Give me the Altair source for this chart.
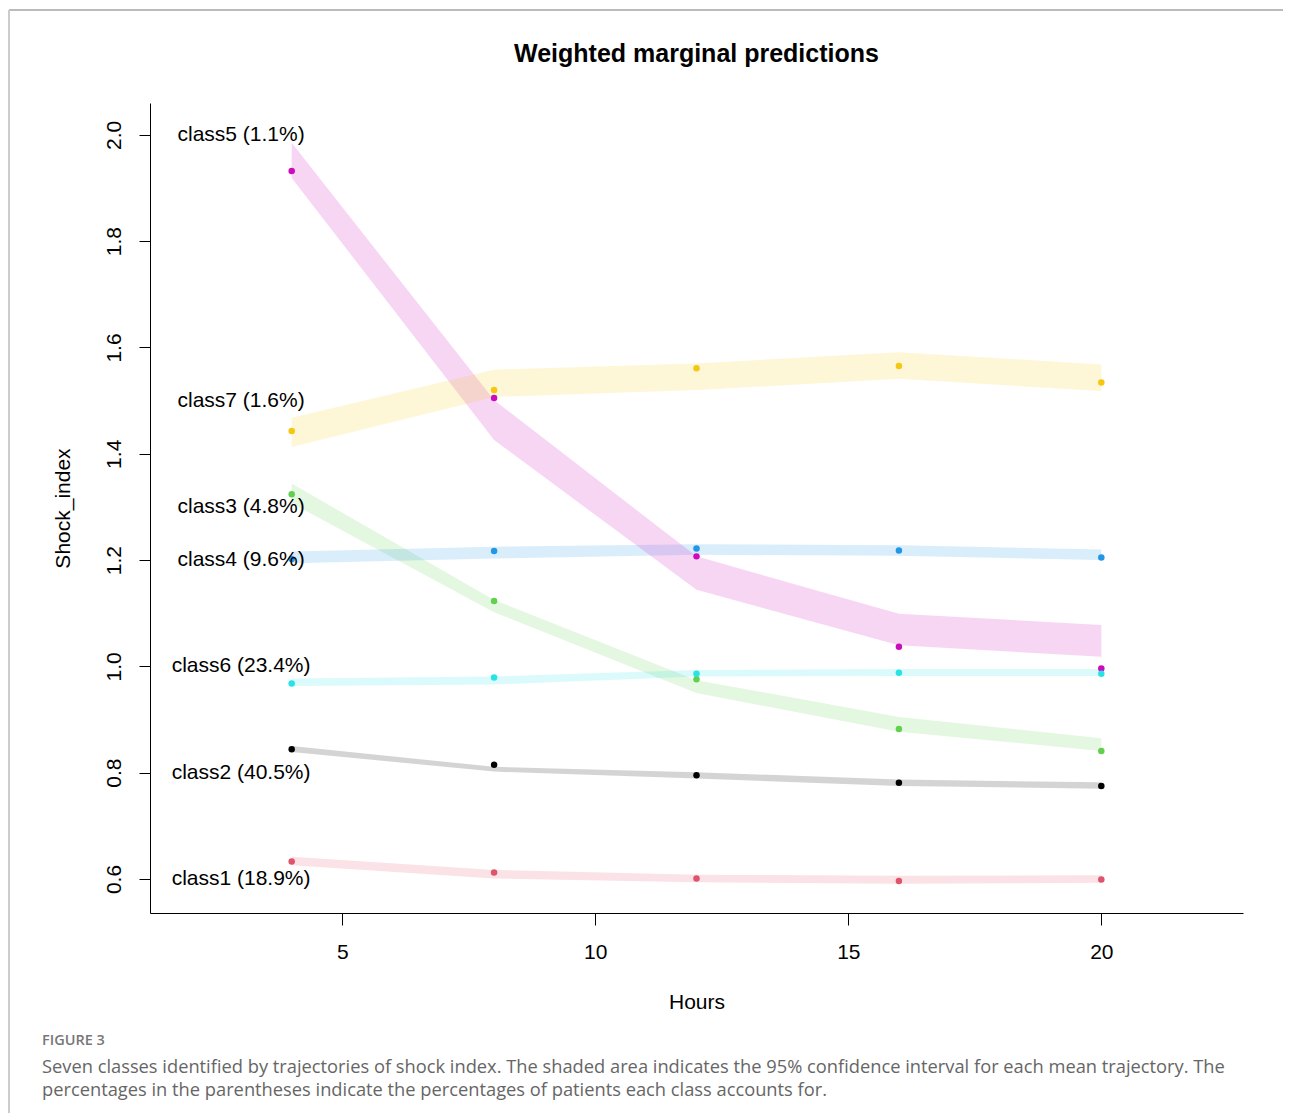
import altair as alt
import pandas as pd

# ---- data ----
hours = [4, 8, 12, 16, 20]
classes = ["class1", "class2", "class3", "class4", "class5", "class6", "class7"]
label_text = ["class1 (18.9%)", "class2 (40.5%)", "class3 (4.8%)", "class4 (9.6%)",
              "class5 (1.1%)", "class6 (23.4%)", "class7 (1.6%)"]
label_y = [0.6, 0.8, 1.3, 1.2, 2.0, 1.0, 1.5]
label_x = [3.0] * 7
colors = ["#DF536B", "#000000", "#61D04F", "#2297E6", "#CD0BBC", "#28E2E5", "#F5C710"]

pred = {
    "class1": [0.633, 0.612, 0.601, 0.596, 0.599],
    "class2": [0.844, 0.815, 0.795, 0.781, 0.775],
    "class3": [1.324, 1.123, 0.976, 0.882, 0.841],
    "class4": [1.202, 1.217, 1.222, 1.218, 1.205],
    "class5": [1.932, 1.505, 1.207, 1.037, 0.996],
    "class6": [0.968, 0.979, 0.986, 0.988, 0.986],
    "class7": [1.443, 1.520, 1.561, 1.565, 1.534],
}
lower = {
    "class1": [0.626, 0.601, 0.594, 0.591, 0.593],
    "class2": [0.839, 0.802, 0.789, 0.775, 0.770],
    "class3": [1.307, 1.102, 0.950, 0.877, 0.841],
    "class4": [1.194, 1.203, 1.210, 1.208, 1.200],
    "class5": [1.919, 1.426, 1.144, 1.040, 1.018],
    "class6": [0.963, 0.966, 0.981, 0.982, 0.982],
    "class7": [1.413, 1.507, 1.520, 1.541, 1.518],
}
upper = {
    "class1": [0.642, 0.617, 0.608, 0.606, 0.607],
    "class2": [0.850, 0.811, 0.801, 0.787, 0.782],
    "class3": [1.344, 1.125, 0.974, 0.905, 0.865],
    "class4": [1.216, 1.225, 1.230, 1.228, 1.220],
    "class5": [1.985, 1.501, 1.207, 1.099, 1.078],
    "class6": [0.977, 0.981, 0.993, 0.995, 0.995],
    "class7": [1.468, 1.558, 1.570, 1.591, 1.568],
}
y_ticks = [0.6, 0.8, 1.0, 1.2, 1.4, 1.6, 1.8, 2.0]
x_ticks = [5, 10, 15, 20]
chart_title = "Weighted marginal predictions"
caption_head = "FIGURE 3"
caption_lines = [
    "Seven classes identified by trajectories of shock index. The shaded area indicates the 95% confidence interval for each mean trajectory. The",
    "percentages in the parentheses indicate the percentages of patients each class accounts for.",
]

rows = []
for c in classes:
    for i, h in enumerate(hours):
        rows.append({"cls": c, "hour": h, "pred": pred[c][i],
                     "lower": lower[c][i], "upper": upper[c][i]})
df = pd.DataFrame(rows)
lab = pd.DataFrame({"cls": classes, "x": label_x, "y": label_y, "text": label_text})

FONT = "Liberation Sans"
xscale = alt.Scale(domain=[1.2, 22.8], nice=False, zero=False)
yscale = alt.Scale(domain=[0.536, 2.060], nice=False, zero=False)
cscale = alt.Scale(domain=classes, range=colors)

xaxis = alt.Axis(values=x_ticks, format="d", title="Hours", tickSize=12,
                 labelPadding=33, labelBaseline="alphabetic",
                 titleX=546.5, titleY=95, titleBaseline="alphabetic")
yaxis = alt.Axis(values=y_ticks, format=".1f", title="Shock_index", tickSize=11,
                 labelAngle=270, labelAlign="center", labelBaseline="alphabetic",
                 labelPadding=19, titleAngle=270, titleX=-81, titleY=405,
                 titleAlign="center", titleBaseline="alphabetic")

bands = alt.Chart(df).mark_area(fillOpacity=0.17, strokeWidth=0).encode(
    x=alt.X("hour:Q", scale=xscale, axis=xaxis),
    y=alt.Y("lower:Q", scale=yscale, axis=yaxis, stack=None),
    y2="upper:Q",
    color=alt.Color("cls:N", scale=cscale, legend=None),
    detail="cls:N",
)

points = alt.Chart(df).mark_circle(size=42, opacity=1).encode(
    x=alt.X("hour:Q", scale=xscale),
    y=alt.Y("pred:Q", scale=yscale),
    color=alt.Color("cls:N", scale=cscale, legend=None),
)

labels = alt.Chart(lab).mark_text(font=FONT, fontSize=21, color="black",
                                  align="center", baseline="middle").encode(
    x=alt.X("x:Q", scale=xscale),
    y=alt.Y("y:Q", scale=yscale),
    text="text:N",
)

title_mark = alt.Chart(pd.DataFrame({"t": [chart_title]})).mark_text(
    font=FONT, fontSize=25, fontWeight="bold", color="black",
    align="center", baseline="middle").encode(
    text="t:N", x=alt.value(546.5), y=alt.value(-49))

cap_head = alt.Chart(pd.DataFrame({"t": [caption_head]})).mark_text(
    font="Open Sans", fontSize=14.5, color="#777777", align="left", baseline="middle",
    fontWeight=600).encode(text="t:N", x=alt.value(-108), y=alt.value(938))
cap1 = alt.Chart(pd.DataFrame({"t": [caption_lines[0]]})).mark_text(
    font="Open Sans", fontSize=18.3, color="#666666", align="left", baseline="middle"
).encode(text="t:N", x=alt.value(-108), y=alt.value(965))
cap2 = alt.Chart(pd.DataFrame({"t": [caption_lines[1]]})).mark_text(
    font="Open Sans", fontSize=18.3, color="#666666", align="left", baseline="middle"
).encode(text="t:N", x=alt.value(-108), y=alt.value(988))

frame_top = alt.Chart(pd.DataFrame({"a": [0]})).mark_rule(
    color="#bbbbbb", strokeWidth=2).encode(
    x=alt.value(-141), x2=alt.value(1142), y=alt.value(-93))
frame_left = alt.Chart(pd.DataFrame({"a": [0]})).mark_rule(
    color="#cccccc", strokeWidth=2).encode(
    x=alt.value(-141), y=alt.value(-93), y2=alt.value(1020))

chart = alt.layer(bands, points, labels, title_mark, cap_head, cap1, cap2,
                  frame_top, frame_left).properties(
    width=1093, height=810,
    padding={"left": 142, "top": 95, "right": 40, "bottom": 200},
    autosize=alt.AutoSizeParams(type="none"),
    background="white",
).configure_view(stroke=None).configure_axis(
    grid=False, labelFont=FONT, titleFont=FONT, labelFontSize=21, titleFontSize=21,
    titleFontWeight="normal", labelColor="black", titleColor="black",
    domainColor="black", tickColor="black", domainWidth=1, tickWidth=1,
)

chart.save("out.html", embed_options={"renderer": "svg", "actions": False})
